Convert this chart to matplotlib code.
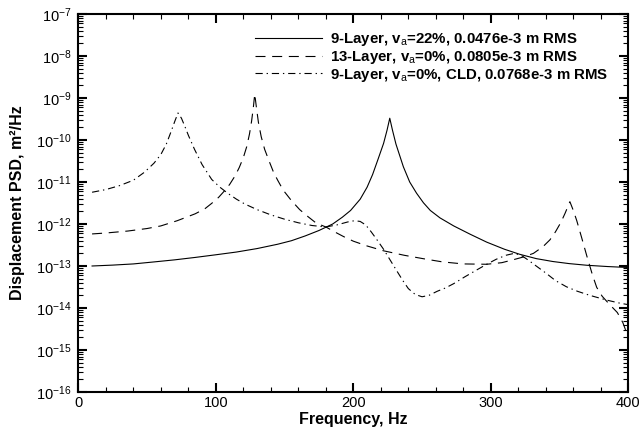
import numpy as np
import matplotlib
matplotlib.use("Agg")
import matplotlib.pyplot as plt
from matplotlib.ticker import MultipleLocator, LogLocator, NullFormatter

# fonts: bold Helvetica-like look
plt.rcParams['font.family'] = ['Liberation Sans', 'DejaVu Sans']
plt.rcParams['mathtext.fontset'] = 'custom'
plt.rcParams['mathtext.rm'] = 'Liberation Sans'
plt.rcParams['mathtext.bf'] = 'Liberation Sans:bold'
plt.rcParams['axes.unicode_minus'] = False

# 9-Layer, va=22%
freq_a = [10, 25, 40, 55, 70, 85, 100, 115, 130, 145, 155, 165, 175, 185, 192, 198, 205,
          210, 214, 218, 222, 224.5, 226.5, 228.5, 231, 236.4, 241, 246, 251, 256, 263,
          273, 285, 297, 310, 321, 333, 345, 357, 370, 385, 400]
psd_a = [1.0e-13, 1.05e-13, 1.12e-13, 1.25e-13, 1.4e-13, 1.6e-13, 1.85e-13, 2.15e-13,
         2.6e-13, 3.3e-13, 4.0e-13, 5.2e-13, 7.0e-13, 1.0e-12, 1.45e-12, 2.1e-12, 3.9e-12,
         7.5e-12, 1.5e-11, 3.5e-11, 8.3e-11, 1.7e-10, 3.3e-10, 1.7e-10, 8.0e-11, 2.3e-11,
         1.0e-11, 5.4e-12, 3.2e-12, 2.1e-12, 1.4e-12,
         9.0e-13, 5.7e-13, 3.7e-13, 2.5e-13, 1.9e-13, 1.5e-13, 1.28e-13, 1.14e-13, 1.04e-13,
         9.7e-14, 9.2e-14]

# 13-Layer, va=0%
freq_b = [10, 20, 36, 50, 60, 72, 85, 92, 97, 102, 106, 110, 114, 117, 120, 122.5, 124.5,
          126, 127.3, 128.3, 129.5, 131, 133, 135.5, 139, 142, 145, 149, 155, 161, 167, 173,
          180, 186, 193, 200, 210, 222, 237, 253, 265, 280, 297, 308, 316, 324, 331, 338,
          343, 347, 351, 354, 357.5, 360, 362.5, 366, 370, 374, 377, 381, 386, 392, 396,
          398, 400]
psd_b = [5.8e-13, 6.1e-13, 6.8e-13, 7.8e-13, 9.0e-13, 1.2e-12, 1.75e-12, 2.3e-12, 3.1e-12,
         4.3e-12, 6.0e-12, 8.7e-12, 1.4e-11, 2.2e-11, 3.8e-11, 7.0e-11, 1.4e-10,
         2.8e-10, 6.0e-10, 1.25e-9, 6.0e-10, 2.6e-10, 1.2e-10, 6.0e-11, 3.0e-11, 1.7e-11,
         1.1e-11, 6.4e-12, 3.6e-12, 2.2e-12, 1.5e-12, 1.05e-12,
         8.5e-13, 6.6e-13, 5.0e-13, 3.9e-13, 3.0e-13, 2.3e-13, 1.8e-13, 1.45e-13, 1.25e-13,
         1.12e-13, 1.1e-13, 1.2e-13, 1.4e-13, 1.65e-13, 2.0e-13, 2.9e-13,
         4.2e-13, 6.5e-13, 1.1e-12, 1.8e-12, 3.4e-12, 2.1e-12, 1.2e-12, 4.8e-13, 1.65e-13,
         6.0e-14, 3.1e-14, 1.9e-14, 1.25e-14, 7.8e-15, 4.5e-15, 3.0e-15, 2.5e-15]

# 9-Layer, va=0%, CLD
freq_c = [10, 20, 30, 40, 48, 55, 60, 64, 67.5, 70, 72.5, 75, 77.5, 80, 84.5, 90, 97, 103,
          109, 115, 121, 130, 140, 150, 160, 170, 180, 188, 196, 201, 205, 209, 213, 217,
          222, 227, 232, 236, 240, 245, 250, 255, 261, 267, 273, 281, 289, 297, 304, 311,
          317, 322, 327, 333, 340, 347, 355, 363, 372, 384, 394, 400]
psd_c = [5.7e-12, 6.6e-12, 8.2e-12, 1.1e-11, 1.7e-11, 2.8e-11, 4.5e-11, 8.0e-11, 1.6e-10,
         2.7e-10, 4.4e-10, 3.3e-10, 2.1e-10, 1.3e-10, 6.0e-11, 2.6e-11, 1.15e-11, 7.5e-12,
         5.3e-12, 3.9e-12, 3.0e-12, 2.2e-12, 1.65e-12, 1.3e-12, 1.07e-12, 9.2e-13, 8.5e-13,
         9.5e-13, 1.12e-12, 1.2e-12, 1.15e-12, 9.5e-13, 6.5e-13, 4.3e-13,
         2.5e-13, 1.35e-13, 7.3e-14, 4.5e-14, 2.9e-14, 2.1e-14, 1.85e-14, 2.0e-14, 2.5e-14,
         3.0e-14, 3.8e-14, 5.5e-14, 7.8e-14, 1.1e-13, 1.45e-13, 1.8e-13,
         2.0e-13, 1.8e-13, 1.4e-13, 1.0e-13, 6.8e-14, 4.5e-14, 3.2e-14, 2.5e-14, 2.0e-14,
         1.55e-14, 1.3e-14, 1.2e-14]

labels = [r"9-Layer, v$_{\rm a}$=22%, 0.0476e-3 m RMS",
          r"13-Layer, v$_{\rm a}$=0%, 0.0805e-3 m RMS",
          r"9-Layer, v$_{\rm a}$=0%, CLD, 0.0768e-3 m RMS"]

fig = plt.figure(figsize=(6.42, 4.32), dpi=100)
ax = fig.add_axes([0.122, 0.0926, 0.8567, 0.875])

ax.plot(freq_a, psd_a, color='black', lw=0.8, label=labels[0])
ax.plot(freq_b, psd_b, color='black', lw=0.8, linestyle=(0, (9, 6)), label=labels[1])
ax.plot(freq_c, psd_c, color='black', lw=0.8, linestyle=(0, (6.5, 3.5, 1.2, 3.5)), label=labels[2])

ax.set_yscale('log')
ax.set_xlim(0, 400)
ax.set_ylim(1e-16, 1e-7)

ax.xaxis.set_major_locator(MultipleLocator(100))
ax.xaxis.set_minor_locator(MultipleLocator(20))
ax.yaxis.set_major_locator(LogLocator(base=10, numticks=20))
ax.yaxis.set_minor_locator(LogLocator(base=10, subs=np.arange(2, 10), numticks=20))
ax.yaxis.set_minor_formatter(NullFormatter())

ax.tick_params(which='both', direction='in', top=True, right=True, labelsize=10.5)
ax.tick_params(which='major', length=6.5, width=1.5)
ax.tick_params(which='minor', length=3.6, width=0.8)
ax.tick_params(axis='x', pad=3)
ax.tick_params(axis='y', pad=5)
for sp in ax.spines.values():
    sp.set_linewidth(1.5)

ax.set_xlabel("Frequency, Hz", fontsize=11.5, fontweight='bold', labelpad=1)
ax.set_ylabel("Displacement PSD, m²/Hz", fontsize=11.5, fontweight='bold', labelpad=8)

leg = ax.legend(loc='upper left', bbox_to_anchor=(0.321, 0.955), frameon=False,
                prop={'weight': 'bold', 'size': 10.8}, handlelength=4.47, handletextpad=0.53,
                labelspacing=0.05, borderpad=0, borderaxespad=0)

fig.savefig("out.png", dpi=100)
